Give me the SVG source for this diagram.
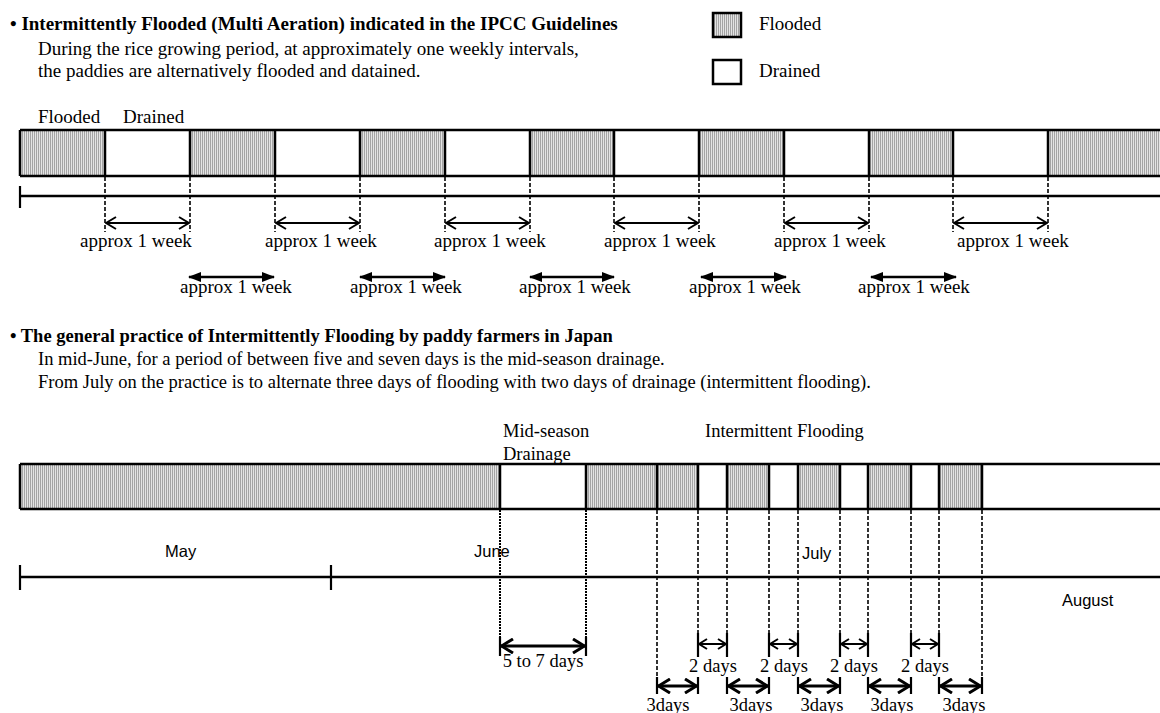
<svg xmlns="http://www.w3.org/2000/svg" width="1160" height="713" viewBox="0 0 1160 713">
<style>
text{font-family:"Liberation Serif","Times New Roman",serif;fill:#000}
.t{font-size:19px}
.b{font-size:19px;font-weight:bold}
.s{font-size:18.5px}
.m{font-family:"Liberation Sans",Arial,sans-serif;font-size:16.5px}
.edge{stroke:#000;stroke-width:2.5;fill:none}
.f{fill:url(#hatch)}
.w{fill:#fff}
.box{stroke:#000;stroke-width:2.5}
.dash{stroke:#000;stroke-width:1.6;stroke-dasharray:4 2;fill:none}
.dot{stroke:#000;stroke-width:2;stroke-dasharray:2 1;fill:none}
.tick{stroke:#000;stroke-width:2.2;fill:none}
.a1{stroke:#000;stroke-width:2;fill:none;marker-start:url(#open);marker-end:url(#open)}
.a2{stroke:#000;stroke-width:2.5;fill:none;marker-start:url(#solid);marker-end:url(#solid)}
.a3{stroke:#000;stroke-width:3;fill:none;marker-start:url(#openThick);marker-end:url(#openThick)}
.a4{stroke:#000;stroke-width:2;fill:none;marker-start:url(#openSmall);marker-end:url(#openSmall)}
</style>
<defs>
<pattern id="hatch" width="2" height="4" patternUnits="userSpaceOnUse"><rect width="2" height="4" fill="#e4e4e4"/><rect width="1" height="4" fill="#a4a4a4"/></pattern>
<marker id="open" markerUnits="userSpaceOnUse" viewBox="0 0 12 14" markerWidth="12" markerHeight="14" refX="11" refY="7" orient="auto-start-reverse"><path d="M1,1 L11,7 L1,13" fill="none" stroke="#000" stroke-width="2"/></marker>
<marker id="solid" markerUnits="userSpaceOnUse" viewBox="0 0 13 10" markerWidth="13" markerHeight="10" refX="12" refY="5" orient="auto-start-reverse"><path d="M0,0 L13,5 L0,10 Z" fill="#000"/></marker>
<marker id="openThick" markerUnits="userSpaceOnUse" viewBox="0 0 14 16" markerWidth="14" markerHeight="16" refX="13" refY="8" orient="auto-start-reverse"><path d="M1,1 L12.5,8 L1,15" fill="none" stroke="#000" stroke-width="3"/></marker>
<marker id="openSmall" markerUnits="userSpaceOnUse" viewBox="0 0 10 12" markerWidth="10" markerHeight="12" refX="9" refY="6" orient="auto-start-reverse"><path d="M1,1 L9,6 L1,11" fill="none" stroke="#000" stroke-width="2"/></marker>
</defs>
<rect width="1160" height="713" fill="#fff"/>

<g id="header1">
<text class="b" x="10" y="30">• Intermittently Flooded (Multi Aeration) indicated in the IPCC Guidelines</text>
<text class="t" x="38" y="55">During the rice growing period, at approximately one weekly intervals,</text>
<text class="t" x="38" y="77">the paddies are alternatively flooded and datained.</text>
</g>
<g id="legend-flooded"><rect class="f box" x="713" y="13" width="28" height="24"/><text class="t" x="759" y="30">Flooded</text></g>
<g id="legend-drained"><rect class="w box" x="713" y="60" width="28" height="24"/><text class="t" x="759" y="77">Drained</text></g>

<g id="top-labels"><text class="t" x="38" y="123">Flooded</text><text class="t" x="123" y="123">Drained</text></g>

<g id="top-bar">
<g id="t1"><rect class="f" x="20" y="130" width="85" height="46"/></g>
<g id="t2"><rect class="w" x="105" y="130" width="85" height="46"/></g>
<g id="t3"><rect class="f" x="190" y="130" width="85" height="46"/></g>
<g id="t4"><rect class="w" x="275" y="130" width="85" height="46"/></g>
<g id="t5"><rect class="f" x="360" y="130" width="85" height="46"/></g>
<g id="t6"><rect class="w" x="445" y="130" width="85" height="46"/></g>
<g id="t7"><rect class="f" x="530" y="130" width="84" height="46"/></g>
<g id="t8"><rect class="w" x="614" y="130" width="85" height="46"/></g>
<g id="t9"><rect class="f" x="699" y="130" width="85" height="46"/></g>
<g id="t10"><rect class="w" x="784" y="130" width="85" height="46"/></g>
<g id="t11"><rect class="f" x="869" y="130" width="84" height="46"/></g>
<g id="t12"><rect class="w" x="953" y="130" width="95" height="46"/></g>
<g id="t13"><rect class="f" x="1048" y="130" width="114" height="46"/></g>
<path class="edge" d="M20,130H1162M20,176H1162M20,130V176M105,130V176M190,130V176M275,130V176M360,130V176M445,130V176M530,130V176M614,130V176M699,130V176M784,130V176M869,130V176M953,130V176M1048,130V176"/>
</g>

<g id="top-timeline">
<path class="edge" d="M20,196H1162"/>
<path class="tick" d="M20,186V208"/>
</g>

<g id="top-connectors">
<path class="dash" d="M105,177V232M190,177V232M275,177V232M360,177V232M445,177V232M530,177V232M614,177V232M699,177V232M784,177V232M869,177V232M953,177V232M1048,177V232"/>
<path class="a1" d="M106,223H189"/>
<path class="a1" d="M276,223H359"/>
<path class="a1" d="M446,223H529"/>
<path class="a1" d="M615,223H698"/>
<path class="a1" d="M785,223H868"/>
<path class="a1" d="M954,223H1047"/>
<path class="a2" d="M189,277H274"/>
<path class="a2" d="M360,277H445"/>
<path class="a2" d="M530,277H614"/>
<path class="a2" d="M701,277H786"/>
<path class="a2" d="M871,277H956"/>
</g>
<g id="top-arrow-labels">
<text class="t" x="80" y="247">approx 1 week</text>
<text class="t" x="265" y="247">approx 1 week</text>
<text class="t" x="434" y="247">approx 1 week</text>
<text class="t" x="604" y="247">approx 1 week</text>
<text class="t" x="774" y="247">approx 1 week</text>
<text class="t" x="957" y="247">approx 1 week</text>
<text class="t" x="180" y="293">approx 1 week</text>
<text class="t" x="350" y="293">approx 1 week</text>
<text class="t" x="519" y="293">approx 1 week</text>
<text class="t" x="689" y="293">approx 1 week</text>
<text class="t" x="858" y="293">approx 1 week</text>
</g>

<g id="header2">
<text class="s" x="10" y="342" font-weight="bold">• The general practice of Intermittently Flooding by paddy farmers in Japan</text>
<text class="s" x="38" y="365">In mid-June, for a period of between five and seven days is the mid-season drainage.</text>
<text class="s" x="38" y="388">From July on the practice is to alternate three days of flooding with two days of drainage (intermittent flooding).</text>
</g>
<g id="phase-labels">
<text class="s" x="503" y="437">Mid-season</text>
<text class="s" x="503" y="460">Drainage</text>
<text class="s" x="705" y="437">Intermittent Flooding</text>
</g>

<g id="bottom-bar">
<g id="b1"><rect class="f" x="20" y="464" width="480" height="45"/></g>
<g id="b2"><rect class="w" x="500" y="464" width="86" height="45"/></g>
<g id="b3"><rect class="f" x="586" y="464" width="71" height="45"/></g>
<g id="b4"><rect class="f" x="657" y="464" width="41" height="45"/></g>
<g id="b5"><rect class="w" x="698" y="464" width="29" height="45"/></g>
<g id="b6"><rect class="f" x="727" y="464" width="42" height="45"/></g>
<g id="b7"><rect class="w" x="769" y="464" width="29" height="45"/></g>
<g id="b8"><rect class="f" x="798" y="464" width="42" height="45"/></g>
<g id="b9"><rect class="w" x="840" y="464" width="28" height="45"/></g>
<g id="b10"><rect class="f" x="868" y="464" width="43" height="45"/></g>
<g id="b11"><rect class="w" x="911" y="464" width="28" height="45"/></g>
<g id="b12"><rect class="f" x="939" y="464" width="43" height="45"/></g>
<g id="b13"><rect class="w" x="982" y="464" width="180" height="45"/></g>
<path class="edge" d="M20,464H1162M20,509H1162M20,464V509M500,464V509M586,464V509M657,464V509M698,464V509M727,464V509M769,464V509M798,464V509M840,464V509M868,464V509M911,464V509M939,464V509M982,464V509"/>
</g>

<g id="bottom-timeline">
<path class="edge" d="M20,577H1162"/>
<path class="tick" d="M20,565V590M331,565V590"/>
<text class="m" x="165" y="557">May</text>
<text class="m" x="474" y="557">June</text>
<text class="m" x="802" y="559">July</text>
<text class="m" x="1062" y="606">August</text>
</g>

<g id="bottom-connectors">
<path class="dot" d="M500,510V637M586,510V637"/>
<path class="dash" d="M657,510V693M982,510V693M698,510V657M727,510V657M769,510V657M798,510V657M840,510V657M868,510V657M911,510V657M939,510V657"/>
<path class="tick" d="M500,637V656M586,637V656"/>
<path class="tick" d="M698,633V657M727,633V657M769,633V657M798,633V657M840,633V657M868,633V657M911,633V657M939,633V657"/>
<path class="tick" d="M657,677V694M698,677V694M727,677V694M769,677V694M798,677V694M840,677V694M868,677V694M911,677V694M939,677V694M982,677V694"/>
<path class="a3" d="M501,646H585"/>
<path class="a4" d="M699,644H726"/>
<path class="a4" d="M770,644H797"/>
<path class="a4" d="M841,644H867"/>
<path class="a4" d="M912,644H938"/>
<path class="a3" d="M658,686H697"/>
<path class="a3" d="M728,686H768"/>
<path class="a3" d="M799,686H839"/>
<path class="a3" d="M869,686H910"/>
<path class="a3" d="M940,686H981"/>
</g>
<g id="bottom-arrow-labels">
<text class="s" x="543" y="667" text-anchor="middle">5 to 7 days</text>
<text class="s" x="713" y="672" text-anchor="middle">2 days</text>
<text class="s" x="784" y="672" text-anchor="middle">2 days</text>
<text class="s" x="854" y="672" text-anchor="middle">2 days</text>
<text class="s" x="925" y="672" text-anchor="middle">2 days</text>
<text class="s" x="668" y="711" text-anchor="middle">3days</text>
<text class="s" x="751" y="711" text-anchor="middle">3days</text>
<text class="s" x="822" y="711" text-anchor="middle">3days</text>
<text class="s" x="892" y="711" text-anchor="middle">3days</text>
<text class="s" x="964" y="711" text-anchor="middle">3days</text>
</g>
</svg>
